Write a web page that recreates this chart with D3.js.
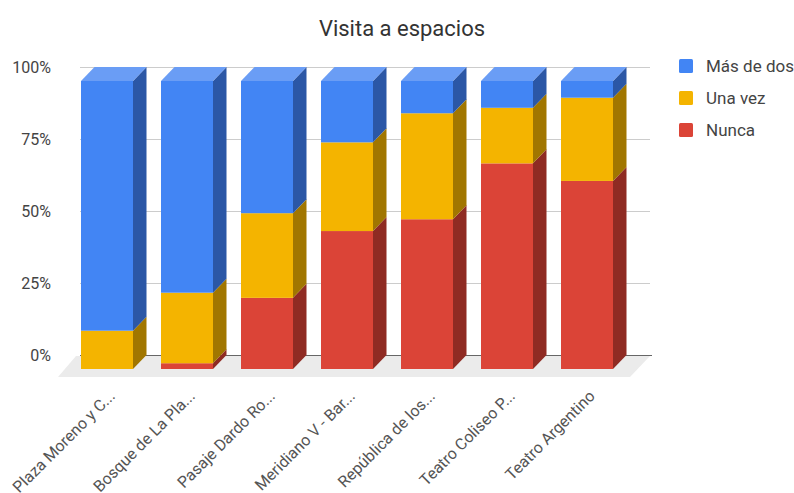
<!DOCTYPE html>
<html><head><meta charset="utf-8">
<script src="https://cdnjs.cloudflare.com/ajax/libs/d3/7.8.5/d3.min.js"></script>
<style>
body{margin:0;background:#fff;}
svg{display:block;font-family:Roboto, Arial, sans-serif;}
</style></head><body>
<svg id="chart" width="794" height="493"></svg>
<script>
const categories = ["Plaza Moreno y C...", "Bosque de La Pla...", "Pasaje Dardo Ro...", "Meridiano V - Bar...", "República de los...", "Teatro Coliseo P...", "Teatro Argentino"];
const seriesNames = ["Nunca", "Una vez", "Más de dos"];
const nunca    = [0, 2, 24.7, 47.9, 52.0, 71.4, 65.3];
const unaVez   = [13.3, 24.5, 29.4, 30.8, 36.8, 19.3, 28.9];
const masDeDos = [86.7, 73.5, 45.9, 21.3, 11.2, 9.3, 5.8];
const yTicks = [0, 0.25, 0.5, 0.75, 1];
const yTickLabels = ["0%", "25%", "50%", "75%", "100%"];
const legendOrder = ["Más de dos", "Una vez", "Nunca"];

const colors = {"Nunca":"#db4437","Una vez":"#f4b400","Más de dos":"#4285f4"};
const sideColors = {"Nunca":"#8f2b23","Una vez":"#a17600","Más de dos":"#2b57a6"};
const topColors = {"Nunca":"#e57368","Una vez":"#f7c740","Más de dos":"#6a9df5"};

const svg = d3.select("#chart");
const DX = 13.5, DY = 14;

const x = d3.scaleBand().domain(categories).range([67, 627]).paddingInner(0.35).paddingOuter(0.175);
const y = d3.scaleLinear().domain([0, 1]).range([369, 81]);
const yBack = d3.scaleLinear().domain([0, 1]).range([369 - DY, 81 - DY]);

// title
svg.append("text").attr("x", 402).attr("y", 36).attr("text-anchor", "middle")
  .attr("font-size", 22).attr("fill", "#333").text("Visita a espacios");

// floor
const fx0 = x.range()[0], fx1 = x.range()[1];
const floorPts = [[fx0 - 9, y(0) + 8], [fx1 + 3, y(0) + 8], [fx1 + 23, yBack(0) + 1], [fx0 + 9, yBack(0) + 1]];
svg.append("path").attr("d", d3.line()(floorPts) + "Z").attr("fill", "#ebebeb");

// gridlines + axis labels
const gridW = 570;
const axis = d3.axisLeft(yBack).tickValues(yTicks)
  .tickFormat((d, i) => yTickLabels[i]).tickSize(-gridW).tickPadding(29);
const ag = svg.append("g").attr("transform", "translate(80,0)").call(axis);
ag.select(".domain").remove();
ag.selectAll(".tick line").attr("stroke", "#cccccc");
ag.selectAll(".tick").filter(d => d === 0).select("line").attr("stroke", "#666").attr("x2", gridW + 2);
ag.selectAll(".tick text").attr("font-size", 16).attr("fill", "#444").attr("font-family", "Roboto, Arial, sans-serif");

// stacked data
const rows = categories.map((c, i) => ({cat: c, "Nunca": nunca[i] / 100, "Una vez": unaVez[i] / 100, "Más de dos": masDeDos[i] / 100}));
const stacked = d3.stack().keys(seriesNames)(rows);

const bw = x.bandwidth();
const gBars = svg.append("g");
categories.forEach((c, i) => {
  const g = gBars.append("g");
  const x0 = x(c), x1 = x0 + bw;
  let topKey = null, topVal = 0;
  stacked.forEach(layer => {
    const d = layer[i];
    const key = layer.key;
    if (d[1] - d[0] <= 0) return;
    const yb = y(d[0]), yt = y(d[1]);
    g.append("path").attr("d", d3.line()([[x1, yb], [x1 + DX, yb - DY], [x1 + DX, yt - DY], [x1, yt]]) + "Z")
      .attr("fill", sideColors[key]);
    g.append("rect").attr("x", x0).attr("y", yt).attr("width", bw).attr("height", yb - yt)
      .attr("fill", colors[key]);
    topKey = key; topVal = d[1];
  });
  if (topKey) {
    const yt = y(topVal);
    g.append("path").attr("d", d3.line()([[x0, yt], [x0 + DX, yt - DY], [x1 + DX, yt - DY], [x1, yt]]) + "Z")
      .attr("fill", topColors[topKey]);
  }
});

// x labels
svg.append("g").selectAll("text").data(categories).join("text")
  .attr("transform", d => `translate(${x(d) + bw / 2 + 9},${y(0) + 28}) rotate(-45)`)
  .attr("text-anchor", "end").attr("font-size", 16).attr("fill", "#555").text(d => d);

// legend
const lg = svg.append("g").selectAll("g").data(legendOrder).join("g")
  .attr("transform", (d, i) => `translate(679,${59 + i * 32})`);
lg.append("rect").attr("width", 14).attr("height", 14).attr("rx", 1.5).attr("fill", d => colors[d]);
lg.append("text").attr("x", 27).attr("y", 13).attr("font-size", 17).attr("fill", "#444").text(d => d);
</script></body></html>
